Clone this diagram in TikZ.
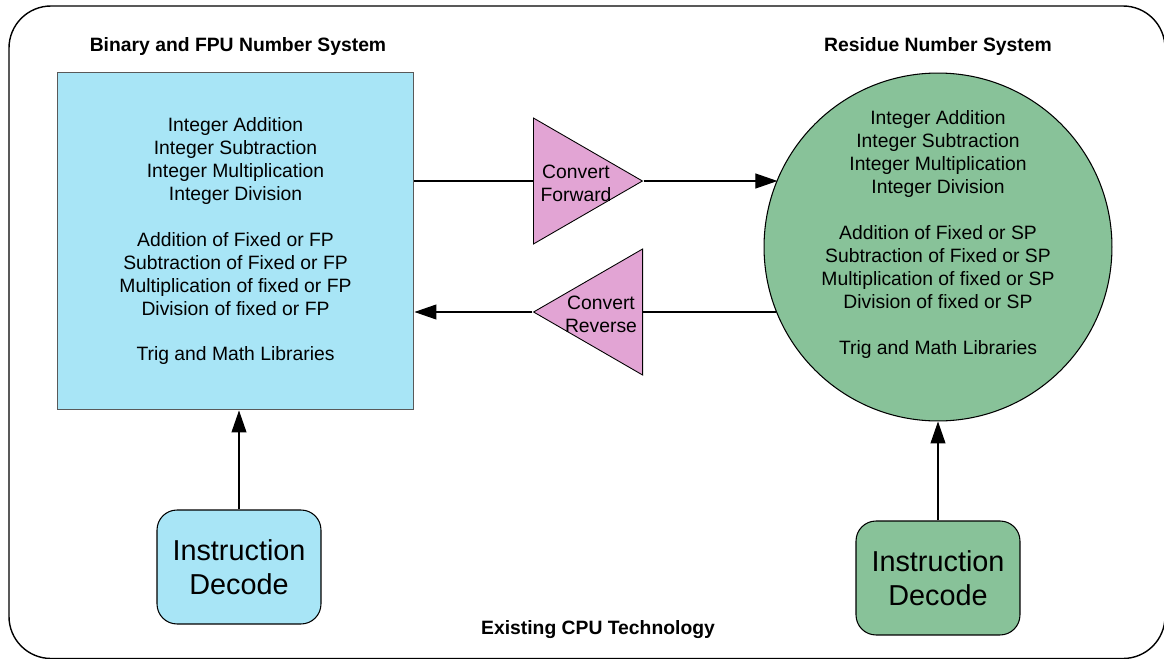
\documentclass[tikz,border=0pt]{standalone}
\usepackage{fontspec}
\setmainfont{Liberation Sans}
\usetikzlibrary{positioning,shapes.geometric,arrows.meta}
\definecolor{fpublue}{RGB}{168,229,246}
\definecolor{rnsgreen}{RGB}{136,194,153}
\definecolor{convpink}{RGB}{226,164,212}

\begin{document}
\begin{tikzpicture}[x=0.02cm, y=-0.02cm, node distance = 1.98cm,
	txt/.style={font=\fontsize{11}{13.1}\selectfont, align=center, inner sep=0pt},
	head/.style={font=\fontsize{11}{13.1}\selectfont\bfseries, inner sep=0pt},
	decodebox/.style={draw, rounded corners=0.4cm, minimum width=3.28cm, minimum height=2.28cm,
		align=center, font=\fontsize{16.4}{19.6}\selectfont, line width=0.6pt},
	convtri/.style={draw, fill=convpink, isosceles triangle, isosceles triangle stretches,
		minimum width=2.52cm, minimum height=2.18cm, inner sep=0pt, line width=0.5pt},
	link/.style={line width=0.6pt, -{Triangle[length=0.44cm, width=0.3cm]}}
]
\useasboundingbox (0,0) rectangle (1164,659);
\def\gap{13pt}

% outer frame
\draw[line width=0.8pt, rounded corners=0.84cm] (9,6) rectangle (1165,658.5);

\node[head] (fputitle) at (238,47) {Binary and FPU Number System};
\node[head] (rnstitle) at (938,47) {Residue Number System};
\node[head] (cputitle) at (598,630) {Existing CPU Technology};

% binary side
\node[draw=black!65, fill=fpublue, line width=0.6pt, minimum width=7.14cm, minimum height=6.76cm, txt] (fpu) at (235.5,241)
	{Integer Addition\\Integer Subtraction\\Integer Multiplication\\Integer Division\\[\gap]
	 Addition of Fixed or FP\\Subtraction of Fixed or FP\\Multiplication of fixed or FP\\Division of fixed or FP\\[\gap]
	 Trig and Math Libraries};
\node[decodebox, fill=fpublue, below= of fpu, xshift=0.07cm] (fpudec) {Instruction\\Decode};

% residue side
\node[circle, draw, fill=rnsgreen, line width=0.6pt, minimum size=6.96cm, inner sep=0pt] (rns) at (938,247) {};
\node[txt] (rnstext) at (938,234.5)
	{Integer Addition\\Integer Subtraction\\Integer Multiplication\\Integer Division\\[\gap]
	 Addition of Fixed or SP\\Subtraction of Fixed or SP\\Multiplication of fixed or SP\\Division of fixed or SP\\[\gap]
	 Trig and Math Libraries};
\node[decodebox, fill=rnsgreen, below= of rns] (rnsdec) {Instruction\\Decode};

% converters
\node[convtri, anchor=lower side] (fwd) at (533,181) {};
\node[txt] (fwdtext) at (576,183) {Convert\\Forward};
\node[convtri, shape border rotate=180, anchor=lower side] (rev) at (643,312) {};
\node[txt] (revtext) at (601,314) {Convert\\Reverse};

\draw[line width=0.6pt] (fpu.east |- fwd.lower side) -- (fwd.lower side);
\draw[link] (fwd.apex) -- (rns.157.7 |- fwd.apex);
\draw[line width=0.6pt] (rns.202 |- rev.lower side) -- (rev.lower side);
\draw[link] (rev.apex) -- (rev.apex -| fpu.east);

\draw[link] (fpudec) -- (fpudec |- fpu.south);
\draw[link] (rnsdec) -- (rns);

\end{tikzpicture}
\end{document}
